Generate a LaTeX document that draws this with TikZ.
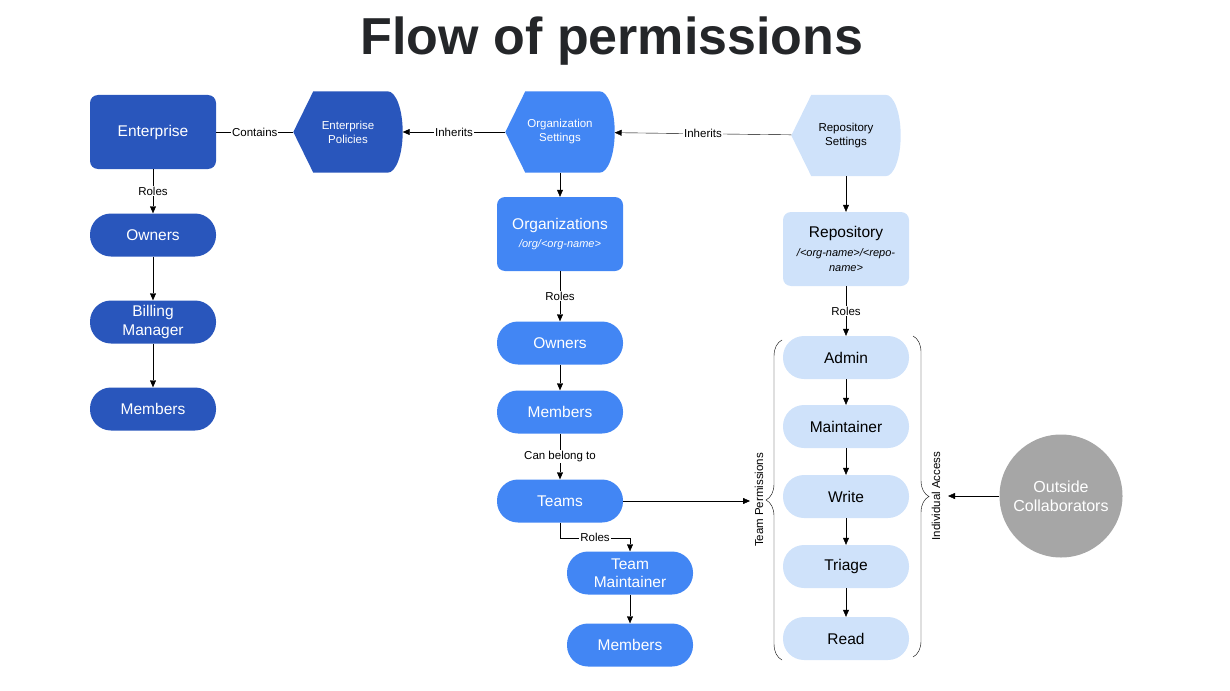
\documentclass[tikz,border=0pt]{standalone}
\usepackage{fontspec}
\setmainfont{Liberation Sans}
\usetikzlibrary{arrows.meta,backgrounds,decorations.pathreplacing}
\definecolor{entblue}{RGB}{41,86,188}
\definecolor{orgblue}{RGB}{66,134,244}
\definecolor{repoblue}{RGB}{207,226,250}
\definecolor{collgray}{RGB}{166,166,166}
\definecolor{titlegray}{RGB}{36,38,41}
\newcommand{\fsz}[2]{\fontsize{#1}{#2}\selectfont}
% display shape round a node: point on the left, bulge on the right
\newcommand{\dispfill}[2]{%
  \fill[#2] (#1.west) -- ([xshift=20pt]#1.north west) -- ([xshift=-15pt]#1.north east)
    .. controls ([xshift=-6.7pt]#1.north east) and ([yshift=22.4pt]#1.east) .. (#1.east)
    .. controls ([yshift=-22.4pt]#1.east) and ([xshift=-6.7pt]#1.south east) .. ([xshift=-15pt]#1.south east)
    -- ([xshift=20pt]#1.south west) -- cycle;}
\begin{document}
\begin{tikzpicture}[x=1pt,y=-1pt,
    box/.style={rounded corners=8pt,minimum width=126pt,minimum height=74pt,align=center,font=\fsz{15.5}{18.5}},
    pill/.style={rounded corners=21pt,minimum width=126pt,minimum height=43pt,align=center,font=\fsz{15.5}{18.5}},
    disp/.style={minimum width=109pt,minimum height=81pt,align=center,font=\fsz{11.5}{14}},
    lbl/.style={fill=white,inner sep=1pt,font=\fsz{11.5}{14}},
    arr/.style={-{Triangle[length=7pt,width=6pt]}},
    ent/.style={fill=entblue,text=white},
    org/.style={fill=orgblue,text=white},
    rep/.style={fill=repoblue,text=black}]
  \useasboundingbox (0,0) rectangle (1230,690);
  \node[font=\fsz{52}{60}\bfseries,text=titlegray] (title) at (612,41) {Flow of permissions};

  % enterprise
  \node[box,ent] (ent) at (153,132) {Enterprise};
  \node[pill,ent] (eown) at (153,235) {Owners};
  \node[pill,ent] (ebill) at (153,322) {Billing\\Manager};
  \node[pill,ent] (emem) at (153,409) {Members};
  \node[disp,text=white] (epol) at (348,132) {Enterprise\\Policies};

  % organization
  \node[disp,text=white] (oset) at (560,132) {Organization\\Settings};
  \node[box,org] (org) at (560,234) {Organizations\\{\fsz{11}{13}\itshape /org/<org-name>}};
  \node[pill,org] (oown) at (560,343) {Owners};
  \node[pill,org] (omem) at (560,412) {Members};
  \node[pill,org] (team) at (560,501) {Teams};
  \node[pill,org] (tmain) at (630,573) {Team\\Maintainer};
  \node[pill,org] (tmem) at (630,645) {Members};

  % repository
  \node[disp,text=black] (rset) at (846,135.5) {Repository\\Settings};
  \node[box,rep] (repo) at (846,249) {Repository\\{\fsz{11}{15}\itshape /<org-name>/<repo-}\\[-3pt]{\fsz{11}{15}\itshape name>}};
  \node[pill,rep] (admin) at (846,357.5) {Admin};
  \node[pill,rep] (rmain) at (846,426.5) {Maintainer};
  \node[pill,rep] (write) at (846,496.5) {Write};
  \node[pill,rep] (triage) at (846,566.5) {Triage};
  \node[pill,rep] (read) at (846,638.5) {Read};

  \node[circle,fill=collgray,text=white,minimum size=123pt,align=center,font=\fsz{16}{19}] (outc) at (1061,496) {Outside\\Collaborators};

  \begin{scope}[on background layer]
    \dispfill{epol}{entblue}
    \dispfill{oset}{orgblue}
    \dispfill{rset}{repoblue}
  \end{scope}

  % braces
  \draw[decorate,decoration={brace,amplitude=16pt}] (782,660) -- (782,340);
  \draw[decorate,decoration={brace,amplitude=16pt}] (913,336) -- (913,657);
  \node[rotate=90,font=\fsz{11.5}{14}] (tperm) at (759,500) {Team Permissions};
  \node[rotate=90,font=\fsz{11.5}{14}] (iacc) at (936,496) {Individual Access};
  \coordinate (tp) at (750,501);
  \coordinate (ia) at (948,496);

  % connectors
  \draw (ent) -- node[lbl]{Contains} (epol);
  \draw[arr] (oset) -- node[lbl]{Inherits} (epol);
  \draw[arr] (rset) -- node[lbl]{Inherits} (oset);
  \draw[arr] (ent) -- node[lbl]{Roles} (eown);
  \draw[arr] (eown) -- (ebill);
  \draw[arr] (ebill) -- (emem);
  \draw[arr] (oset) -- (org);
  \draw[arr] (org) -- node[lbl]{Roles} (oown);
  \draw[arr] (oown) -- (omem);
  \draw[arr] (omem) -- node[lbl]{Can belong to} (team);
  \draw[arr] (team.south) -- ++(0,15) -| node[lbl,pos=0.25]{Roles} (tmain.north);
  \draw[arr] (tmain) -- (tmem);
  \draw[arr] (team) -- (tp);
  \draw[arr] (rset) -- (repo);
  \draw[arr] (repo) -- node[lbl]{Roles} (admin);
  \draw[arr] (admin) -- (rmain);
  \draw[arr] (rmain) -- (write);
  \draw[arr] (write) -- (triage);
  \draw[arr] (triage) -- (read);
  \draw[arr] (outc) -- (ia);
\end{tikzpicture}
\end{document}
